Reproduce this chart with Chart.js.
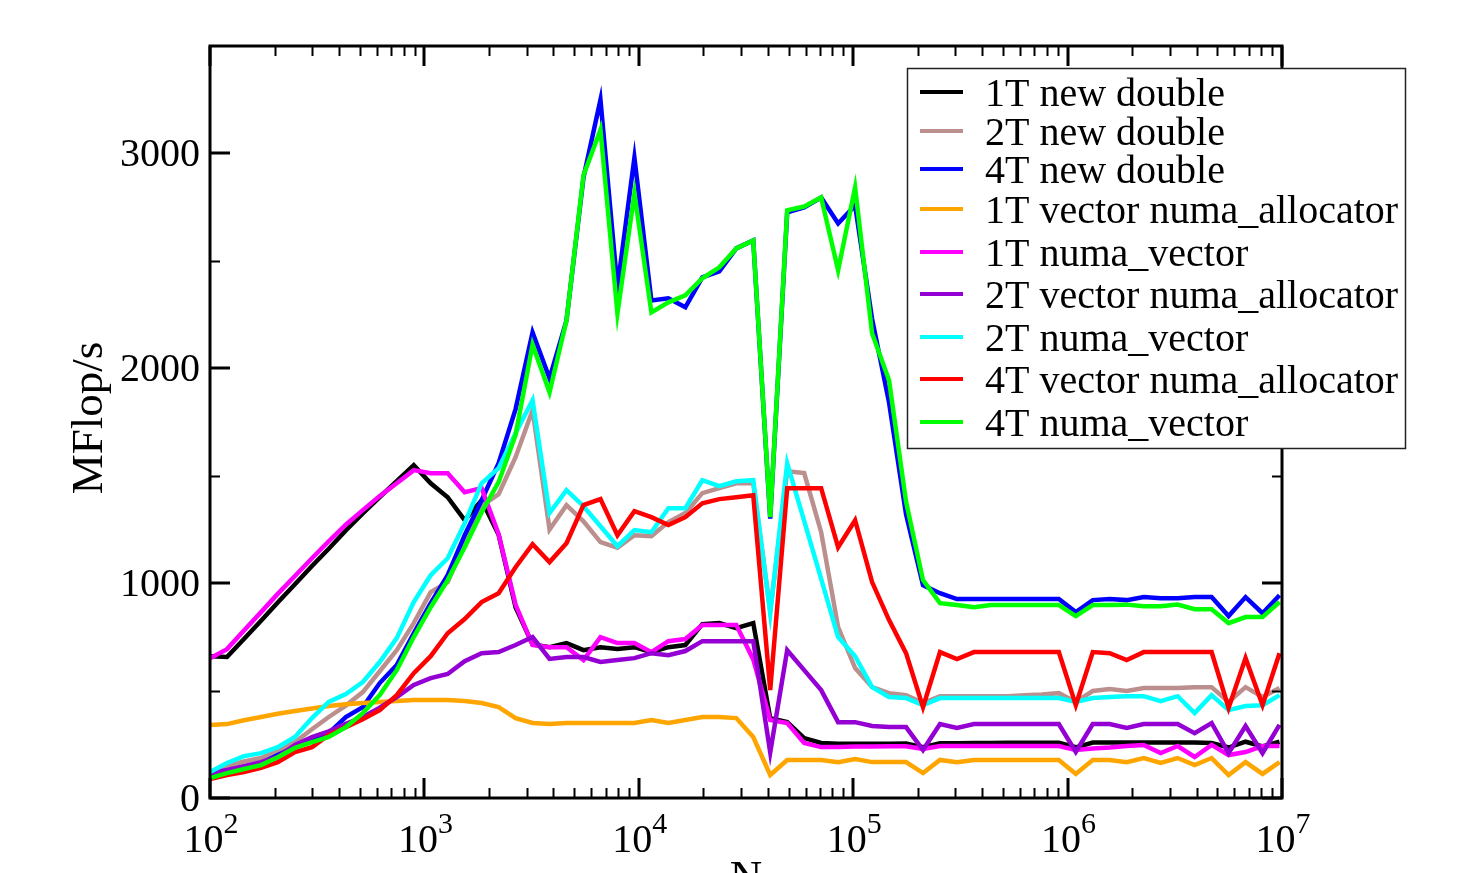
<!DOCTYPE html>
<html><head><meta charset="utf-8">
<script src="https://cdn.jsdelivr.net/npm/chart.js@4/dist/chart.umd.min.js"></script>
<style>html,body{margin:0;padding:0;background:#fff;overflow:hidden;}</style>
</head><body>
<canvas id="c" width="1469" height="873"></canvas>
<script>
// ---- data ----
const problemSizes = [100, 120, 144, 173, 207, 249, 299, 358,
  430, 516, 619, 743, 892, 1070, 1284, 1541,
  1849, 2219, 2662, 3195, 3834, 4601, 5521, 6625,
  7950, 9540, 11448, 13737, 16484, 19781, 23738, 28485,
  34182, 41018, 49222, 59067, 70880, 85056, 102067, 122480,
  146977, 176372, 211646, 253976, 304771, 365725, 438870, 526644,
  631973, 758367, 910041, 1092049, 1310459, 1572551, 1887061, 2264473,
  2717368, 3260842, 3913010, 4695612, 5634734, 6761681, 8114017, 9736820];

const new1T = [660, 656, 740, 825, 910, 995, 1080, 1160,
  1245, 1325, 1400, 1475, 1549, 1465, 1400, 1293,
  1386, 1225, 888, 715, 702, 721, 688, 702,
  693, 702, 679, 702, 712, 809, 814, 791,
  814, 372, 353, 279, 256, 252, 252, 253,
  253, 254, 237, 255, 255, 256, 256, 257,
  257, 257, 257, 236, 258, 258, 258, 258,
  258, 258, 258, 256, 235, 262, 240, 262];

const new2T = [115, 149, 170, 186, 220, 260, 320, 377,
  430, 493, 590, 688, 814, 958, 1005, 1186,
  1360, 1414, 1586, 1805, 1250, 1363, 1288, 1191,
  1165, 1223, 1219, 1284, 1326, 1419, 1442, 1465,
  1465, 870, 1521, 1512, 1237, 795, 605, 516,
  488, 479, 442, 474, 474, 474, 474, 474,
  478, 482, 488, 447, 498, 507, 498, 512,
  512, 512, 516, 516, 447, 516, 470, 512];

const new4T = [107, 125, 145, 163, 200, 237, 270, 302,
  377, 423, 535, 619, 767, 907, 1037, 1223,
  1386, 1558, 1810, 2167, 1953, 2223, 2888, 3250,
  2377, 2980, 2316, 2326, 2284, 2423, 2451, 2558,
  2595, 1300, 2726, 2749, 2795, 2674, 2758, 2230,
  1840, 1320, 990, 953, 926, 926, 926, 926,
  926, 926, 926, 865, 921, 926, 921, 935,
  930, 930, 935, 935, 847, 935, 860, 944];

const alloc1T = [340, 344, 362, 377, 392, 405, 417, 428,
  436, 442, 447, 451, 456, 456, 456, 451,
  442, 423, 372, 349, 344, 349, 349, 349,
  349, 349, 363, 349, 363, 377, 377, 372,
  284, 107, 177, 177, 177, 167, 181, 167,
  167, 167, 116, 177, 167, 177, 177, 177,
  177, 177, 177, 112, 177, 177, 167, 186,
  163, 186, 153, 186, 107, 167, 112, 167];

const numa1T = [650, 693, 780, 865, 950, 1033, 1116, 1195,
  1272, 1340, 1405, 1465, 1526, 1512, 1512, 1423,
  1442, 1228, 900, 712, 702, 702, 642, 749,
  721, 721, 679, 730, 740, 805, 805, 805,
  645, 363, 349, 256, 237, 237, 240, 240,
  241, 241, 228, 242, 242, 242, 242, 242,
  242, 242, 242, 223, 230, 235, 242, 247,
  209, 242, 191, 247, 200, 214, 242, 242];

const alloc2T = [116, 130, 148, 167, 191, 247, 284, 310,
  345, 377, 420, 470, 526, 558, 577, 637,
  674, 679, 712, 749, 647, 656, 656, 633,
  642, 651, 674, 665, 684, 730, 730, 730,
  730, 212, 688, 595, 502, 353, 353, 335,
  330, 330, 223, 344, 326, 344, 344, 344,
  344, 344, 344, 214, 344, 344, 326, 344,
  344, 344, 302, 349, 209, 335, 209, 340];

const numa2T = [121, 163, 195, 209, 237, 284, 372, 447,
  484, 540, 633, 744, 912, 1037, 1116, 1279,
  1465, 1535, 1698, 1851, 1326, 1433, 1358, 1265,
  1172, 1247, 1237, 1349, 1349, 1479, 1451, 1474,
  1479, 860, 1558, 1290, 1020, 749, 660, 516,
  470, 465, 432, 465, 465, 465, 465, 465,
  465, 465, 465, 447, 465, 470, 474, 474,
  451, 474, 395, 479, 409, 428, 432, 479];

const alloc4T = [88, 107, 121, 140, 167, 214, 237, 293,
  330, 367, 409, 479, 581, 660, 767, 833,
  912, 953, 1074, 1181, 1098, 1186, 1363, 1391,
  1223, 1335, 1307, 1270, 1307, 1372, 1391, 1400,
  1409, 502, 1442, 1442, 1442, 1167, 1293, 1005,
  828, 674, 423, 679, 647, 679, 679, 679,
  679, 679, 679, 432, 679, 674, 642, 679,
  679, 679, 679, 679, 419, 651, 432, 674];

const numa4T = [93, 116, 135, 153, 190, 233, 260, 284,
  330, 395, 479, 595, 749, 888, 1014, 1167,
  1330, 1470, 1690, 2110, 1888, 2223, 2898, 3110,
  2256, 2814, 2260, 2307, 2340, 2419, 2470, 2558,
  2595, 1307, 2735, 2753, 2795, 2456, 2842, 2163,
  1944, 1380, 1014, 907, 898, 888, 898, 898,
  898, 898, 898, 847, 898, 898, 900, 893,
  893, 900, 879, 879, 814, 842, 842, 912];

const seriesNames = ['1T new double', '2T new double', '4T new double',
  '1T vector numa_allocator', '1T numa_vector', '2T vector numa_allocator',
  '2T numa_vector', '4T vector numa_allocator', '4T numa_vector'];
const seriesValues = [new1T, new2T, new4T, alloc1T, numa1T, alloc2T, numa2T, alloc4T, numa4T];
const seriesColors = ['#000000', '#bc8f8f', '#0000ff', '#ffa500', '#ff00ff', '#9400d3', '#00ffff', '#ff0000', '#00ff00'];

const xTickExponents = [2, 3, 4, 5, 6, 7];
const xMinorMultipliers = [2, 3, 4, 5, 6, 7, 8, 9];
const yTickValues = [0, 1000, 2000, 3000];
const yMinorValues = [500, 1500, 2500];
const xTitle = 'N';
const yTitle = 'MFlop/s';

// ---- chart ----
const FONT = '"Liberation Serif", "Times New Roman", serif';

const datasets = seriesValues.map((vals, i) => ({
  label: seriesNames[i],
  data: vals.map((v, k) => ({ x: problemSizes[k], y: v })),
  borderColor: seriesColors[i],
  backgroundColor: seriesColors[i],
  borderWidth: 4.5,
  pointRadius: 0,
  tension: 0,
  fill: false,
  order: seriesValues.length - 1 - i
}));

const decoPlugin = {
  id: 'deco',
  afterDraw(chart) {
    const { ctx, chartArea: a, scales: { x, y } } = chart;
    ctx.save();
    ctx.strokeStyle = '#000';
    ctx.fillStyle = '#000';
    ctx.lineCap = 'butt';

    // minor ticks
    ctx.lineWidth = 2;
    ctx.beginPath();
    for (let e = xTickExponents[0]; e < xTickExponents[xTickExponents.length - 1]; e++) {
      for (const m of xMinorMultipliers) {
        const px = Math.round(x.getPixelForValue(m * Math.pow(10, e))) + 0.5;
        ctx.moveTo(px, a.bottom); ctx.lineTo(px, a.bottom - 10);
        ctx.moveTo(px, a.top); ctx.lineTo(px, a.top + 10);
      }
    }
    for (const v of yMinorValues) {
      const py = Math.round(y.getPixelForValue(v)) + 0.5;
      ctx.moveTo(a.left, py); ctx.lineTo(a.left + 10, py);
      ctx.moveTo(a.right, py); ctx.lineTo(a.right - 10, py);
    }
    ctx.stroke();

    // major ticks
    ctx.lineWidth = 3;
    ctx.beginPath();
    for (const e of xTickExponents) {
      const px = Math.round(x.getPixelForValue(Math.pow(10, e)));
      ctx.moveTo(px, a.bottom); ctx.lineTo(px, a.bottom - 20);
      ctx.moveTo(px, a.top); ctx.lineTo(px, a.top + 20);
    }
    for (const v of yTickValues) {
      const py = Math.round(y.getPixelForValue(v));
      ctx.moveTo(a.left, py); ctx.lineTo(a.left + 20, py);
      ctx.moveTo(a.right, py); ctx.lineTo(a.right - 20, py);
    }
    ctx.stroke();

    // frame
    ctx.lineWidth = 3;
    ctx.strokeRect(a.left, a.top, a.right - a.left, a.bottom - a.top);

    // y tick labels
    ctx.font = '40px ' + FONT;
    ctx.textAlign = 'right';
    ctx.textBaseline = 'alphabetic';
    for (const v of yTickValues) {
      ctx.fillText(String(v), a.left - 10, y.getPixelForValue(v) + 13);
    }

    // x tick labels 10^e
    ctx.textAlign = 'left';
    for (const e of xTickExponents) {
      const px = x.getPixelForValue(Math.pow(10, e));
      ctx.font = '40px ' + FONT;
      const w10 = ctx.measureText('10').width;
      ctx.font = '30px ' + FONT;
      const we = ctx.measureText(String(e)).width;
      const start = px - (w10 + we) / 2 + 1;
      ctx.font = '40px ' + FONT;
      ctx.fillText('10', start, 852);
      ctx.font = '30px ' + FONT;
      ctx.fillText(String(e), start + w10, 833);
    }

    // axis titles
    ctx.font = '45px ' + FONT;
    ctx.textAlign = 'center';
    ctx.fillText(xTitle, (a.left + a.right) / 2, 891);
    ctx.save();
    ctx.translate(102, 418);
    ctx.rotate(-Math.PI / 2);
    ctx.fillText(yTitle, 0, 0);
    ctx.restore();

    // legend
    const bx = 907, by = 68, bw = 498, bh = 380;
    ctx.fillStyle = '#fff';
    ctx.fillRect(bx, by, bw, bh);
    ctx.strokeStyle = '#222';
    ctx.lineWidth = 1.5;
    ctx.strokeRect(bx + 0.5, by + 0.5, bw, bh);
    const rows = [92, 131, 169, 209, 252, 294, 337, 379, 422];
    ctx.font = '40px ' + FONT;
    ctx.textAlign = 'left';
    chart.data.datasets.forEach((ds, i) => {
      const ry = rows[i];
      ctx.strokeStyle = ds.borderColor;
      ctx.lineWidth = 4;
      ctx.beginPath();
      ctx.moveTo(920, ry); ctx.lineTo(963, ry);
      ctx.stroke();
      ctx.fillStyle = '#000';
      ctx.fillText(ds.label, 985, ry + 14);
    });
    ctx.restore();
  }
};

new Chart(document.getElementById('c'), {
  type: 'line',
  data: { datasets },
  options: {
    responsive: false,
    animation: false,
    devicePixelRatio: 1,
    layout: { padding: { left: 210, right: 187, top: 46, bottom: 75 } },
    plugins: { legend: { display: false }, tooltip: { enabled: false } },
    scales: {
      x: { type: 'logarithmic', min: 100, max: 10000000, display: false },
      y: { type: 'linear', min: 0, max: 3500, display: false }
    }
  },
  plugins: [decoPlugin]
});
</script>
</body></html>
